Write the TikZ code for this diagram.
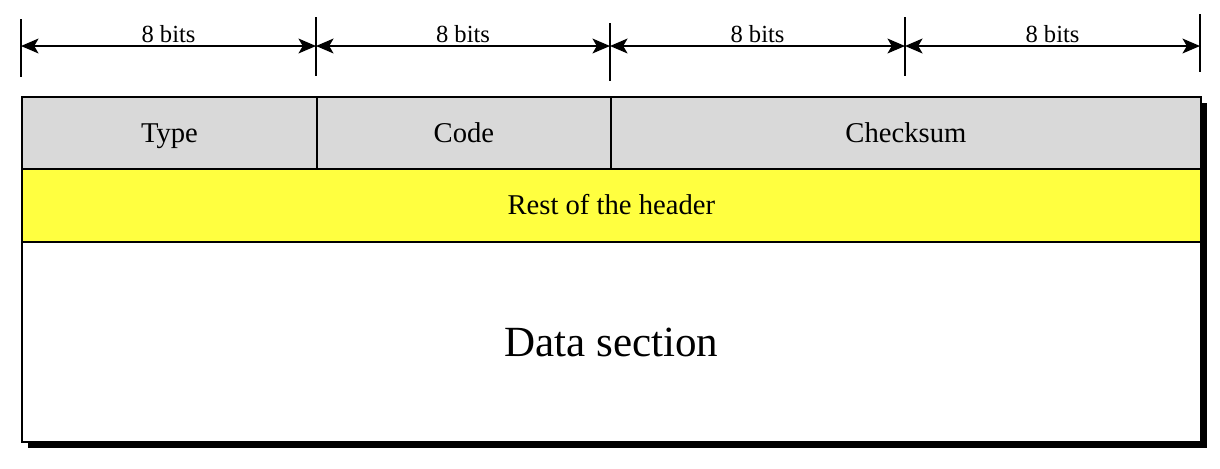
\documentclass[tikz,border=0pt]{standalone}
\usepackage{fontspec}
\setmainfont{Liberation Serif}
\usetikzlibrary{arrows.meta,positioning}
\definecolor{hdrgray}{RGB}{217,217,217}
\definecolor{hdryellow}{RGB}{255,255,64}
\tikzset{
  field/.style={draw=black, line width=1.1pt, anchor=north west, inner sep=0pt, align=center, text height=11.5pt, text depth=0.7pt, font=\fontsize{16.3}{19}\selectfont},
  bitmark/.style={line width=0.8pt},
  bitspan/.style={{Stealth[length=10pt,width=8.5pt,inset=2.5pt]}-{Stealth[length=10pt,width=8.5pt,inset=2.5pt]}, line width=0.8pt},
}
\begin{document}
\begin{tikzpicture}[x=0.02cm, y=-0.02cm]
  \useasboundingbox (0,0) rectangle (1220,468);
  % Bit widths
  \foreach \x/\n/\a/\b in {21/0/19/77, 316/1/17/76, 610/2/23/81, 905/3/17/76, 1200/4/14/72} {
    \coordinate (t\n) at (\x,46);
    \draw[bitmark] (\x,\a) -- (\x,\b);
  }
  \foreach \i/\j in {0/1, 1/2, 2/3, 3/4}
    \draw[bitspan] (t\i) -- node[midway, anchor=base, yshift=2pt, inner sep=0pt, font=\fontsize{14}{16}\selectfont] {8 bits} (t\j);
  % Shadow
  \fill[black] (28,103) rectangle (1207,448);
  % Header fields
  \node[field, fill=hdrgray, minimum width=5.9cm, minimum height=1.44cm] (type) at (21,96) {Type};
  \node[field, fill=hdrgray, minimum width=5.88cm, minimum height=1.44cm] (code) at (316,96) {Code};
  \node[field, fill=hdrgray, minimum width=11.8cm, minimum height=1.44cm] (csum) at (610,96) {Checksum};
  \node[field, fill=hdryellow, minimum width=23.58cm, minimum height=1.46cm] (rest) at (21,168) {Rest of the header};
  % Data
  \node[field, fill=white, minimum width=23.58cm, minimum height=4.0cm, text height=17pt, text depth=1pt, font=\fontsize{24.5}{29}\selectfont] (data) at (21,241) {Data section};
\end{tikzpicture}
\end{document}
